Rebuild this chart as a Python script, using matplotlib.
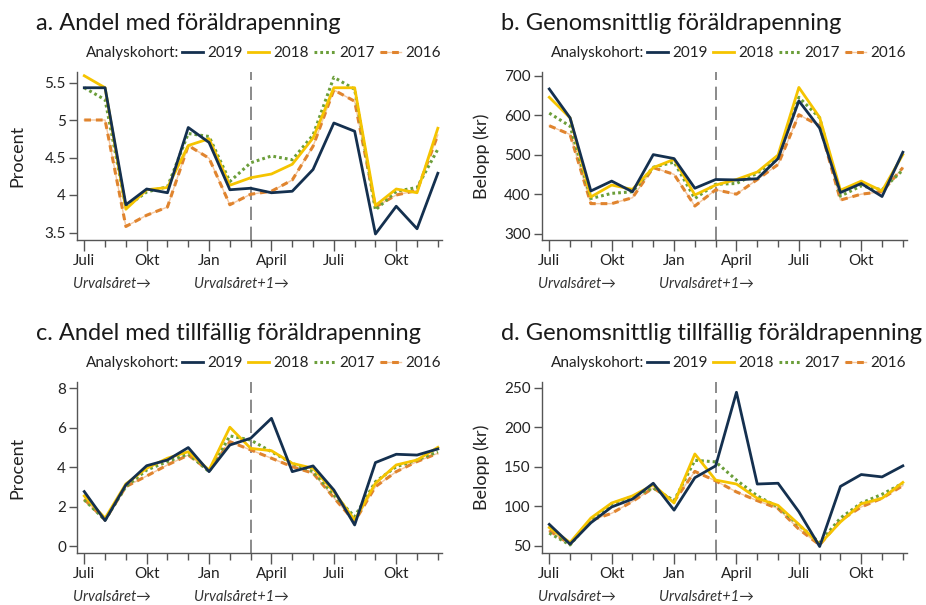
import numpy as np
import matplotlib
matplotlib.use("Agg")
import matplotlib.pyplot as plt

plt.rcParams['font.family'] = ['Lato', 'DejaVu Sans']

# months from July (urvalsåret) through December (urvalsåret+1)
months = np.arange(18)
month_labels = ['Juli', 'Okt', 'Jan', 'April', 'Juli', 'Okt']
label_pos = [0, 3, 6, 9, 12, 15]
cohorts = ['2019', '2018', '2017', '2016']

# a. Andel med föräldrapenning (procent)
a_2019 = [5.43, 5.43, 3.87, 4.08, 4.03, 4.90, 4.70, 4.07, 4.09, 4.03, 4.05, 4.34, 4.96, 4.85, 3.48, 3.85, 3.55, 4.29]
a_2018 = [5.59, 5.43, 3.81, 4.07, 4.10, 4.66, 4.75, 4.13, 4.23, 4.28, 4.41, 4.76, 5.43, 5.43, 3.86, 4.08, 4.03, 4.89]
a_2017 = [5.43, 5.27, 3.84, 4.04, 4.11, 4.82, 4.78, 4.18, 4.43, 4.52, 4.47, 4.80, 5.57, 5.41, 3.80, 4.05, 4.10, 4.61]
a_2016 = [5.00, 5.00, 3.58, 3.73, 3.84, 4.66, 4.49, 3.87, 4.01, 4.05, 4.20, 4.65, 5.40, 5.25, 3.84, 4.00, 4.06, 4.80]

# b. Genomsnittlig föräldrapenning (kr)
b_2019 = [666, 593, 408, 433, 406, 500, 490, 415, 437, 436, 439, 490, 636, 567, 404, 427, 394, 506]
b_2018 = [645, 593, 393, 423, 412, 467, 488, 398, 423, 437, 456, 499, 670, 594, 410, 433, 408, 500]
b_2017 = [605, 572, 389, 402, 406, 468, 481, 389, 425, 427, 453, 492, 645, 593, 395, 421, 411, 461]
b_2016 = [573, 551, 376, 376, 391, 467, 450, 370, 411, 400, 437, 475, 601, 573, 385, 400, 406, 467]

# c. Andel med tillfällig föräldrapenning (procent)
c_2019 = [2.77, 1.30, 3.11, 4.08, 4.37, 5.00, 3.78, 5.13, 5.47, 6.48, 3.78, 4.07, 2.85, 1.08, 4.24, 4.66, 4.62, 4.93]
c_2018 = [2.55, 1.42, 3.16, 3.95, 4.46, 4.79, 3.86, 6.03, 4.96, 4.84, 4.20, 3.95, 2.77, 1.33, 3.19, 4.12, 4.37, 5.01]
c_2017 = [2.35, 1.33, 3.02, 3.86, 4.29, 4.68, 3.78, 5.59, 5.38, 4.79, 4.20, 3.78, 2.60, 1.50, 3.27, 4.03, 4.37, 4.79]
c_2016 = [2.38, 1.33, 3.02, 3.56, 4.12, 4.62, 3.83, 5.30, 4.88, 4.46, 4.03, 3.70, 2.46, 1.25, 3.02, 3.78, 4.29, 4.71]

# d. Genomsnittlig tillfällig föräldrapenning (kr)
d_2019 = [77, 52, 79, 99, 109, 129, 95, 136, 151, 244, 128, 129, 93, 49, 125, 140, 137, 151]
d_2018 = [73, 54, 85, 104, 113, 127, 104, 166, 133, 128, 110, 101, 77, 52, 80, 103, 110, 130]
d_2017 = [66, 51, 82, 103, 112, 123, 107, 158, 156, 133, 113, 99, 76, 54, 85, 104, 115, 129]
d_2016 = [69, 52, 82, 91, 106, 123, 106, 144, 132, 118, 107, 97, 71, 51, 82, 99, 110, 126]

navy = '#14304f'
gold = '#f5c400'
green = '#6b9e3a'
orange = '#e0842e'
peach = '#f4c7a0'
spine_c = '#555555'

W, H = 926, 605

# title, ylabel, series, axes box in pixels (left, top, right, bottom), ylim, yticks, labels
panels = [
    ('a. Andel med föräldrapenning', 'Procent', [a_2019, a_2018, a_2017, a_2016],
     (77, 72, 442, 240), (3.40, 5.64), [3.5, 4, 4.5, 5, 5.5], ['3.5', '4', '4.5', '5', '5.5']),
    ('b. Genomsnittlig föräldrapenning', 'Belopp (kr)', [b_2019, b_2018, b_2017, b_2016],
     (542, 72, 907, 240), (284, 709), [300, 400, 500, 600, 700], None),
    ('c. Andel med tillfällig föräldrapenning', 'Procent', [c_2019, c_2018, c_2017, c_2016],
     (77, 382, 442, 553), (-0.34, 8.32), [0, 2, 4, 6, 8], None),
    ('d. Genomsnittlig tillfällig föräldrapenning', 'Belopp (kr)', [d_2019, d_2018, d_2017, d_2016],
     (542, 382, 907, 553), (40.8, 257), [50, 100, 150, 200, 250], None),
]

fig = plt.figure(figsize=(W / 100, H / 100), dpi=100)

for title, ylab, series, box, ylim, yticks, yticklabels in panels:
    left, top, right, bottom = box
    ax = fig.add_axes([left / W, 1 - bottom / H, (right - left) / W, (bottom - top) / H])
    aw, ah = right - left, bottom - top
    s19, s18, s17, s16 = series
    l16b, = ax.plot(months, s16, color=peach, lw=1.0)
    l16, = ax.plot(months, s16, color=orange, lw=2.2, linestyle=(0, (2.2, 1.6)))
    l17, = ax.plot(months, s17, color=green, lw=2.2, linestyle=(0, (0.9, 1.0)))
    l18, = ax.plot(months, s18, color=gold, lw=2.0)
    l19, = ax.plot(months, s19, color=navy, lw=2.0)
    ax.axvline(8, color='#777777', lw=1.2, linestyle=(0, (8, 4)), zorder=0)

    ax.set_xlim(-0.35, 17.2)
    ax.set_ylim(*ylim)
    ax.set_yticks(yticks)
    if yticklabels:
        ax.set_yticklabels(yticklabels)
    ax.set_xticks(label_pos)
    ax.set_xticklabels(month_labels)
    ax.set_xticks(months, minor=True)
    for sp in ['top', 'right']:
        ax.spines[sp].set_visible(False)
    for sp in ['left', 'bottom']:
        ax.spines[sp].set_color(spine_c)
        ax.spines[sp].set_linewidth(1.0)
    ax.tick_params(axis='x', which='major', length=8, width=1, color=spine_c,
                   labelsize=11, labelcolor='#222222', pad=2)
    ax.tick_params(axis='x', which='minor', length=5, width=1, color=spine_c)
    ax.tick_params(axis='y', length=6, width=1, color=spine_c, labelsize=11,
                   labelcolor='#222222', pad=2)
    ax.set_ylabel(ylab, fontsize=13, color='#222222')
    ax.yaxis.set_label_coords(-52 / aw, 0.5)

    ax.text(-41 / aw, 1 + 42 / ah, title, transform=ax.transAxes, fontsize=17,
            color='#1a1a1a', ha='left', va='baseline')
    ax.text(9 / aw, 1 + 19 / ah, 'Analyskohort:', transform=ax.transAxes, fontsize=11,
            color='#222222', ha='left', va='center')
    ax.legend([l19, l18, l17, (l16b, l16)], cohorts, ncol=4, frameon=False,
              loc='center left', bbox_to_anchor=(105 / aw, 1 + 19 / ah), fontsize=11,
              handlelength=1.35, handletextpad=0.3, columnspacing=0.35,
              borderpad=0, borderaxespad=0, labelcolor='#222222')

    ax.text(-4 / aw, -44 / ah, 'Urvalsåret\u2192', transform=ax.transAxes, fontsize=10.5,
            style='italic', color='#333333', ha='left', va='center')
    ax.text(117 / aw, -44 / ah, 'Urvalsåret+1\u2192', transform=ax.transAxes, fontsize=10.5,
            style='italic', color='#333333', ha='left', va='center')

fig.savefig('out.png', dpi=100)
